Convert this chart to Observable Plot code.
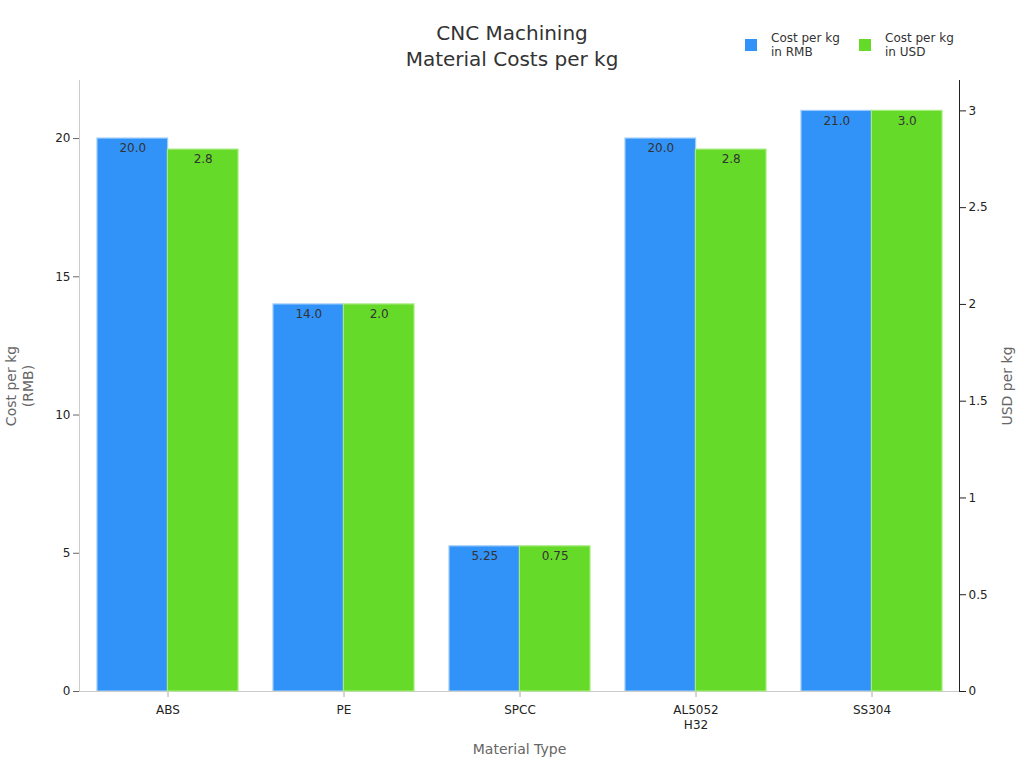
<!DOCTYPE html>
<html>
<head>
<meta charset="utf-8">
<script src="https://cdn.jsdelivr.net/npm/d3@7"></script>
<script src="https://cdn.jsdelivr.net/npm/@observablehq/plot@0.6"></script>
<style>
  html, body { margin: 0; padding: 0; background: #fff; }
  #wrap { position: relative; width: 1024px; height: 768px; font-family: "DejaVu Sans", sans-serif; overflow: hidden; }
  #wrap > .layer { position: absolute; left: 0; top: 0; }
  #title { position: absolute; left: 262px; width: 500px; top: 20px; text-align: center; font-size: 20px; line-height: 26px; color: #333; }
  .leg { position: absolute; top: 31px; font-size: 12px; line-height: 14px; color: #333; }
  .leg .sw { position: absolute; left: 0; top: 8px; width: 12px; height: 12px; }
  .leg .tx { position: absolute; left: 26px; top: 0; white-space: nowrap; }
</style>
</head>
<body>
<div id="wrap">
  <div id="title">CNC Machining<br>Material Costs per kg</div>
  <div class="leg" style="left:745px"><div class="sw" style="background:#3192f8"></div><div class="tx">Cost per kg<br>in RMB</div></div>
  <div class="leg" style="left:859px"><div class="sw" style="background:#66da29"></div><div class="tx">Cost per kg<br>in USD</div></div>
</div>
<script>
const categories = ["ABS", "PE", "SPCC", "AL5052\nH32", "SS304"];
const rmbValues = [20.0, 14.0, 5.25, 20.0, 21.0];
const usdValues = [2.8, 2.0, 0.75, 2.8, 3.0];
const rmbTicks = [0, 5, 10, 15, 20];
const usdTicks = [0, 0.5, 1, 1.5, 2, 2.5, 3];

const rmbData = categories.map((c, i) => ({category: c, value: rmbValues[i]}));
const usdData = categories.map((c, i) => ({category: c, value: usdValues[i]}));

const fmt = v => Number.isInteger(Math.round(v * 100) / 10) ? v.toFixed(1) : v.toFixed(2);

const W = 1024, H = 768;
const margins = {marginLeft: 79, marginRight: 65, marginTop: 80, marginBottom: 77};
const half = (W - 79 - 65) / 5 * 0.8 / 2;
const xScale = {type: "band", domain: categories, paddingInner: 0.2, paddingOuter: 0.1};
const style = {fontFamily: "DejaVu Sans, sans-serif", fontSize: "12px", color: "#333", background: "transparent", overflow: "visible"};

const p1 = Plot.plot({
  width: W, height: H, ...margins, style,
  x: {...xScale},
  y: {domain: [0, 22.1]},
  marks: [
    Plot.barY(rmbData, {x: "category", y: "value", fill: "#3192f8", stroke: "#9dcbfb", strokeWidth: 1.2, insetRight: half}),
    Plot.text(rmbData, {x: "category", y: "value", text: d => fmt(d.value), dx: -half / 2, dy: 10, fill: "#333", fontSize: 12}),
    Plot.axisY({ticks: rmbTicks, tickFormat: d => String(d), tickSize: 6, stroke: "#666", fill: "#222",
      label: "Cost per kg\n(RMB)", labelAnchor: "center", labelOffset: 73, labelArrow: "none"}),
    Plot.axisX({tickSize: 6, stroke: "#aaa", fill: "#222", tickPadding: 6, lineHeight: 1.25,
      label: "Material Type", labelAnchor: "center", labelOffset: 62, labelArrow: "none"}),
    Plot.frame({anchor: "left", stroke: "#ccc"}),
    Plot.frame({anchor: "bottom", stroke: "#ccc"})
  ]
});
p1.classList.add("layer");

const p2 = Plot.plot({
  width: W, height: H, ...margins, style,
  x: {...xScale, axis: null},
  y: {domain: [0, 3.157], axis: null},
  marks: [
    Plot.barY(usdData, {x: "category", y: "value", fill: "#66da29", stroke: "#a6eb7e", strokeWidth: 1.2, insetLeft: half}),
    Plot.text(usdData, {x: "category", y: "value", text: d => fmt(d.value), dx: half / 2, dy: 10, fill: "#333", fontSize: 12}),
    Plot.axisY({anchor: "right", ticks: usdTicks, tickFormat: d => String(d), tickSize: 6, stroke: "#222", fill: "#222",
      label: "USD per kg", labelAnchor: "center", labelOffset: 52, labelArrow: "none"}),
    Plot.frame({anchor: "right", stroke: "#222"})
  ]
});
p2.classList.add("layer");

const wrap = document.getElementById("wrap");
wrap.insertBefore(p1, wrap.firstChild);
wrap.insertBefore(p2, p1.nextSibling);

// axis label colour, size and line spacing
for (const svg of [p1, p2]) {
  svg.querySelectorAll("[aria-label='y-axis label'] text, [aria-label='x-axis label'] text").forEach(t => {
    t.setAttribute("fill", "#666");
    t.style.fontSize = "14px";
    t.querySelectorAll("tspan").forEach((s, i) => { if (i > 0) s.setAttribute("dy", "1.2em"); });
  });
}
</script>
</body>
</html>
